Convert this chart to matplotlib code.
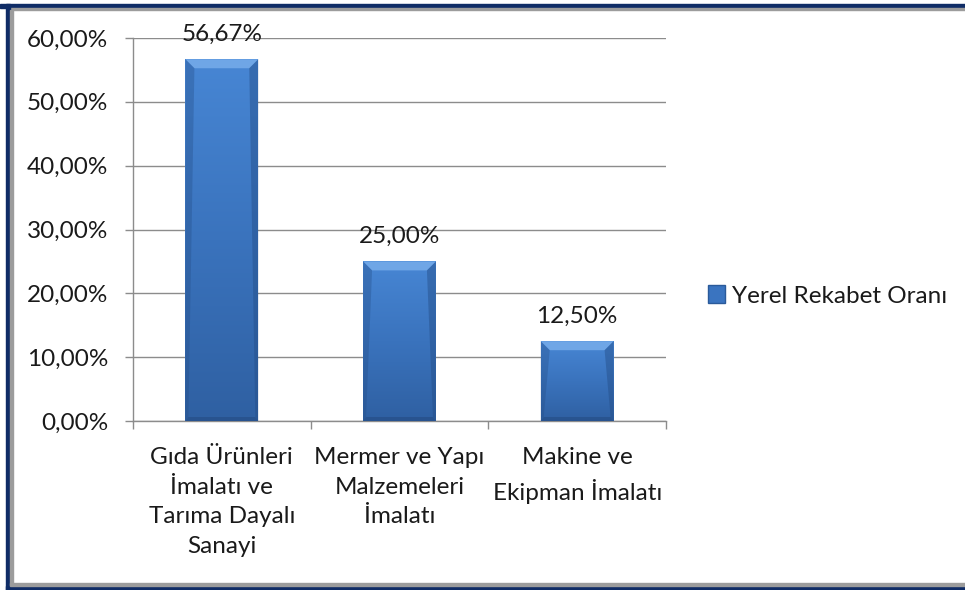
import numpy as np
import matplotlib
matplotlib.use('Agg')
import matplotlib.pyplot as plt
from matplotlib.patches import Rectangle, Polygon, Patch
from matplotlib.colors import LinearSegmentedColormap

# data
categories = ['Gıda Ürünleri\nİmalatı ve\nTarıma Dayalı\nSanayi',
              'Mermer ve Yapı\nMalzemeleri\nİmalatı',
              'Makine ve\nEkipman İmalatı']
values = [0.5667, 0.25, 0.125]
value_labels = ['56,67%', '25,00%', '12,50%']
yticks = [0.0, 0.1, 0.2, 0.3, 0.4, 0.5, 0.6]
ytick_labels = ['0,00%', '10,00%', '20,00%', '30,00%', '40,00%', '50,00%', '60,00%']
series_name = 'Yerel Rekabet Oranı'

plt.rcParams['font.family'] = ['Lato', 'DejaVu Sans']
text_color = '#1a1a1a'
grid_color = '#8c8c8c'
fs = 17.5

W, H = 965, 590
fig = plt.figure(figsize=(W / 100, H / 100), dpi=100)
fig.patch.set_facecolor('white')

# plot area in pixels
left, right, top, bottom = 133, 666, 38, 421
ax = fig.add_axes([left / W, 1 - bottom / H, (right - left) / W, (bottom - top) / H])

x = np.arange(len(categories))
bars = ax.bar(x, values, width=0.41, color='#3a74c0', zorder=3)

ax.set_xlim(-0.5, len(categories) - 0.5)
ax.set_ylim(0, 0.6)

# vertical gradient + bevel for each bar (excel-like look)
cmap = LinearSegmentedColormap.from_list('bar', ['#2f60a2', '#3a73bd', '#4786d4'])
grad = np.linspace(0, 1, 200).reshape(-1, 1)
px_x = len(categories) / (right - left)
px_y = 0.6 / (bottom - top)
for b in bars:
    bx, bw, bh = b.get_x(), b.get_width(), b.get_height()
    im = ax.imshow(grad, cmap=cmap, extent=[bx, bx + bw, 0, bh], origin='lower',
                   aspect='auto', zorder=3, interpolation='bicubic')
    im.set_clip_path(b)
    b.set_facecolor('none')
    dx, dy = 9 * px_x, 9 * px_y
    sx = 3 * px_x
    # top bevel
    ax.add_patch(Polygon([(bx, bh), (bx + bw, bh), (bx + bw - dx, bh - dy), (bx + dx, bh - dy)],
                         closed=True, facecolor='#6fa6e6', edgecolor='none', zorder=4))
    # side edges
    ax.add_patch(Polygon([(bx + bw, bh), (bx + bw, 0), (bx + bw - sx, 4 * px_y),
                          (bx + bw - dx, bh - dy)],
                         closed=True, facecolor='#244d86', edgecolor='none', zorder=4, alpha=0.45))
    ax.add_patch(Polygon([(bx, bh), (bx, 0), (bx + sx, 4 * px_y), (bx + dx, bh - dy)],
                         closed=True, facecolor='#244d86', edgecolor='none', zorder=4, alpha=0.35))
    # bottom edge
    ax.add_patch(Polygon([(bx, 0), (bx + bw, 0), (bx + bw - sx, 4 * px_y), (bx + sx, 4 * px_y)],
                         closed=True, facecolor='#22487e', edgecolor='none', zorder=4, alpha=0.5))

# value labels
for xi, v, lab in zip(x, values, value_labels):
    ax.annotate(lab, (xi, v), xytext=(0, 13.5), textcoords='offset points',
                ha='center', va='baseline', fontsize=fs, color=text_color)

# grid and axes
ax.set_yticks(yticks)
ax.set_yticklabels(ytick_labels, fontsize=fs, color=text_color)
ax.yaxis.grid(True, color=grid_color, linewidth=1.0, zorder=0)
ax.set_axisbelow(True)
ax.tick_params(axis='y', length=6, width=1, color=grid_color, pad=12)
ax.set_xticks(np.arange(len(categories) + 1) - 0.5)
ax.set_xticklabels([])
ax.tick_params(axis='x', length=6, width=1, color=grid_color)
for s in ['top', 'right']:
    ax.spines[s].set_visible(False)
for s in ['left', 'bottom']:
    ax.spines[s].set_color(grid_color)
    ax.spines[s].set_linewidth(1.0)
ax.set_facecolor('none')

# category labels under axis
for xi, c in zip(x, categories):
    ax.annotate(c, (xi, 0), xytext=(0, -19), textcoords='offset points',
                ha='center', va='top', fontsize=fs, color=text_color,
                linespacing=1.5, annotation_clip=False)

# legend
handle = Patch(facecolor='#3a74c0', edgecolor='#2a5a9a')
fig.legend([handle], [series_name], loc='center left',
           bbox_to_anchor=(708 / W, 1 - 296 / H), frameon=False,
           fontsize=fs, handlelength=0.7, handleheight=0.7,
           handletextpad=0.3, borderpad=0, borderaxespad=0,
           labelcolor=text_color)

# outer frame (navy border with grey inner shadow)
navy = '#0f2c66'
grey = '#9c9c9c'
fig.add_artist(Rectangle((0, 1 - 8 / H), 1, 4 / H, transform=fig.transFigure, color=navy, zorder=10))
fig.add_artist(Rectangle((10 / W, 1 - 10 / H), 1, 2 / H, transform=fig.transFigure, color=grey, zorder=10))
fig.add_artist(Rectangle((6 / W, 0), 4 / W, 1 - 4 / H, transform=fig.transFigure, color=navy, zorder=10))
fig.add_artist(Rectangle((10 / W, 4 / H), 3 / W, 1 - 14 / H, transform=fig.transFigure, color=grey, zorder=10))
fig.add_artist(Rectangle((6 / W, 0), 1, 4 / H, transform=fig.transFigure, color=navy, zorder=10))
fig.add_artist(Rectangle((10 / W, 4 / H), 1, 3 / H, transform=fig.transFigure, color=grey, zorder=10))

fig.savefig('out.png', dpi=100)
